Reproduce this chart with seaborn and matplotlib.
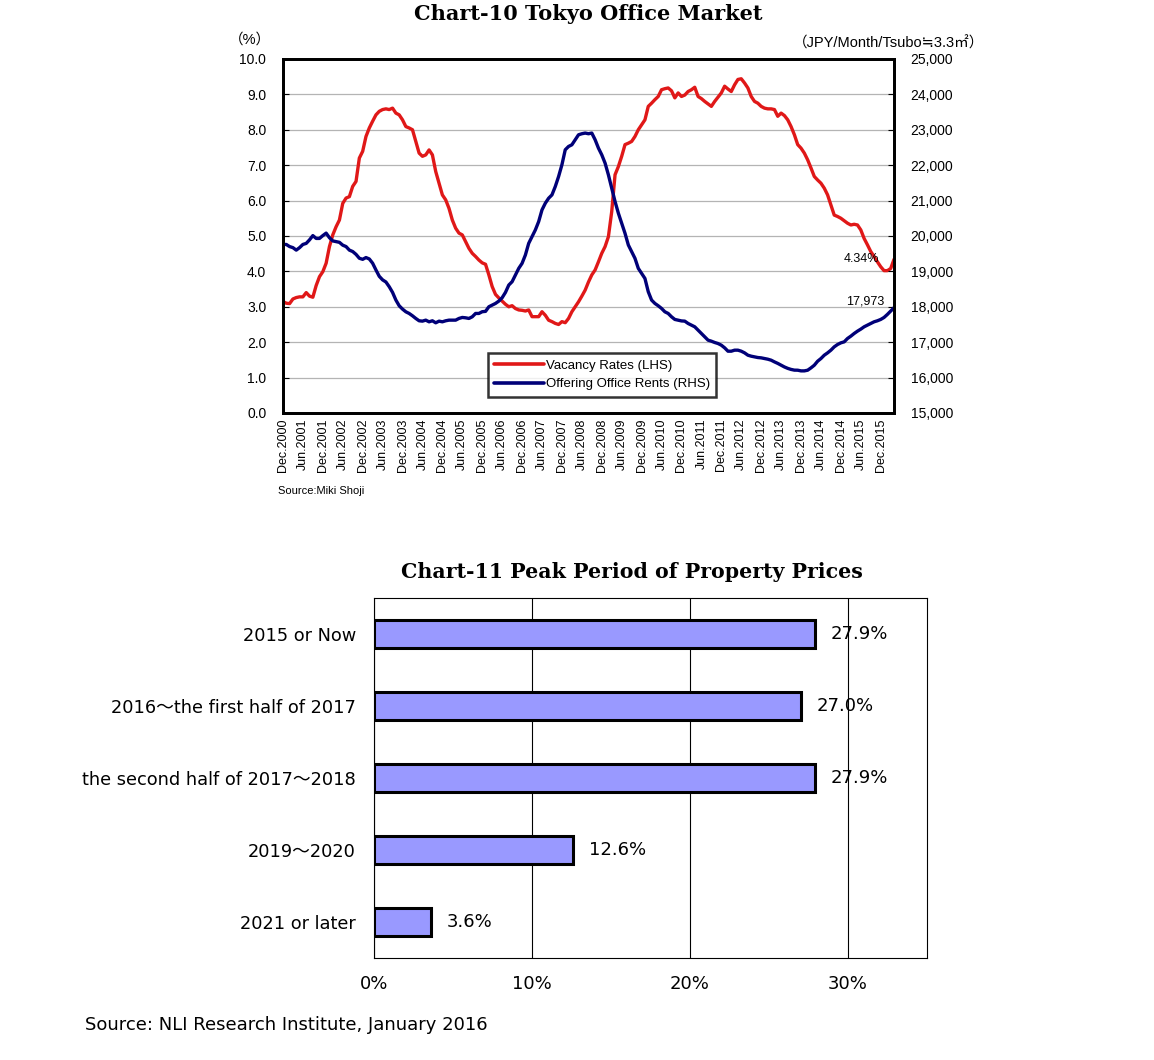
import matplotlib

matplotlib.use("Agg")

import matplotlib.pyplot as plt
import numpy as np
import pandas as pd
import seaborn as sns
from matplotlib.lines import Line2D

# ---------------------------------------------------------------- data
# Chart-10: monthly, first point = Dec.2000
vacancy = [
    3.15, 3.10, 3.09, 3.22, 3.26, 3.28, 3.28, 3.40, 3.30, 3.27,
    3.60, 3.85, 3.99, 4.23, 4.70, 5.03, 5.26, 5.45, 5.92, 6.07,
    6.11, 6.40, 6.54, 7.20, 7.39, 7.81, 8.05, 8.24, 8.42, 8.52,
    8.57, 8.59, 8.57, 8.61, 8.47, 8.42, 8.28, 8.09, 8.05, 8.00,
    7.67, 7.34, 7.25, 7.29, 7.43, 7.29, 6.82, 6.49, 6.16, 6.02,
    5.78, 5.45, 5.22, 5.08, 5.03, 4.84, 4.65, 4.51, 4.42, 4.32,
    4.24, 4.20, 3.90, 3.57, 3.35, 3.25, 3.16, 3.07, 3.00, 3.03,
    2.95, 2.91, 2.90, 2.88, 2.91, 2.72, 2.72, 2.72, 2.86, 2.76,
    2.62, 2.58, 2.53, 2.50, 2.58, 2.55, 2.67, 2.86, 3.00, 3.14,
    3.30, 3.47, 3.70, 3.90, 4.04, 4.27, 4.51, 4.70, 4.98, 5.69,
    6.73, 6.96, 7.25, 7.58, 7.62, 7.67, 7.81, 8.00, 8.14, 8.28,
    8.66, 8.75, 8.85, 8.94, 9.13, 9.16, 9.18, 9.10, 8.90, 9.04,
    8.94, 8.98, 9.08, 9.13, 9.20, 8.94, 8.88, 8.80, 8.73, 8.66,
    8.80, 8.92, 9.04, 9.23, 9.15, 9.08, 9.27, 9.42, 9.44, 9.32,
    9.18, 8.94, 8.80, 8.75, 8.66, 8.61, 8.59, 8.59, 8.57, 8.38,
    8.47, 8.40, 8.28, 8.09, 7.86, 7.58, 7.48, 7.34, 7.15, 6.92,
    6.68, 6.58, 6.49, 6.35, 6.16, 5.87, 5.59, 5.55, 5.50, 5.43,
    5.36, 5.31, 5.33, 5.31, 5.17, 4.93, 4.75, 4.56, 4.42, 4.27,
    4.13, 4.02, 4.02, 4.08, 4.34,
]
rents = [
    19760, 19760, 19700, 19670, 19600, 19670, 19760, 19790, 19890, 20010,
    19930, 19930, 20010, 20080, 19950, 19860, 19840, 19820, 19740, 19700,
    19600, 19560, 19480, 19370, 19340, 19390, 19350, 19230, 19040, 18860,
    18760, 18700, 18566, 18406, 18190, 18028, 17934, 17858, 17811, 17745,
    17670, 17604, 17594, 17622, 17575, 17604, 17547, 17594, 17575, 17604,
    17622, 17622, 17622, 17670, 17698, 17688, 17670, 17717, 17811, 17811,
    17860, 17870, 18000, 18047, 18094, 18160, 18255, 18406, 18613, 18708,
    18896, 19085, 19226, 19462, 19792, 19981, 20170, 20406, 20736, 20925,
    21066, 21160, 21396, 21679, 22010, 22434, 22528, 22575, 22717, 22858,
    22887, 22906, 22887, 22906, 22717, 22481, 22292, 22057, 21726, 21349,
    20972, 20642, 20358, 20075, 19745, 19557, 19368, 19085, 18943, 18800,
    18425, 18189, 18094, 18028, 17953, 17858, 17811, 17717, 17642, 17622,
    17600, 17594, 17528, 17481, 17434, 17340, 17245, 17151, 17057, 17028,
    16991, 16962, 16915, 16840, 16745, 16745, 16774, 16774, 16745, 16698,
    16632, 16604, 16585, 16566, 16557, 16538, 16519, 16491, 16443, 16400,
    16350, 16300, 16260, 16230, 16210, 16208, 16189, 16189, 16208, 16274,
    16349, 16462, 16538, 16632, 16698, 16774, 16868, 16934, 16981, 17009,
    17104, 17170, 17245, 17311, 17368, 17434, 17481, 17528, 17575, 17604,
    17642, 17698, 17783, 17877, 17973,
]
month_labels = []
for yr in range(2000, 2016):
    if yr > 2000:
        month_labels.append(f"Jun.{yr}")
    month_labels.append(f"Dec.{yr}")

# Chart-11
periods = [
    "2015 or Now",
    "2016～the first half of 2017",
    "the second half of 2017～2018",
    "2019～2020",
    "2021 or later",
]
shares = [27.9, 27.0, 27.9, 12.6, 3.6]

RED = "#e01818"
NAVY = "#000078"
FONT = ["Liberation Sans", "Noto Sans CJK JP", "DejaVu Sans"]
FONT_WIDE = ["DejaVu Sans", "Noto Sans CJK JP"]

sns.set_style("white")
plt.rcParams["font.family"] = FONT
plt.rcParams.update({"text.color": "black", "xtick.color": "black",
                     "ytick.color": "black", "axes.labelcolor": "black"})

fig = plt.figure(figsize=(11.54, 10.6), dpi=100)

# ---------------------------------------------------------------- chart 10
df = pd.DataFrame({"m": np.arange(len(vacancy)), "vac": vacancy, "rent": rents})

ax = fig.add_axes([0.2452, 0.6104, 0.5295, 0.3340])
ax2 = ax.twinx()
sns.lineplot(data=df, x="m", y="vac", ax=ax, color=RED, lw=2.4)
sns.lineplot(data=df, x="m", y="rent", ax=ax2, color=NAVY, lw=2.4)

ax.set_xlim(0, len(vacancy) - 1)
ax.set_ylim(0, 10)
ax2.set_ylim(15000, 25000)
ax.set_yticks(np.arange(0, 10.1, 1.0))
ax.set_yticklabels([f"{v:.1f}" for v in np.arange(0, 10.1, 1.0)])
ax2.set_yticks(np.arange(15000, 25001, 1000))
ax2.set_yticklabels([f"{v:,}" for v in range(15000, 25001, 1000)])
ax.set_xticks(np.arange(0, 181, 6))
ax.set_xticklabels(month_labels, rotation=90, fontsize=9)
ax.yaxis.grid(True, color="#b4b4b4", lw=0.9)
ax.set_axisbelow(True)
ax.set_xlabel("")
ax.set_ylabel("")
ax2.set_ylabel("")
ax.tick_params(axis="y", direction="in", length=4, labelsize=10, pad=12)
ax2.tick_params(axis="y", direction="in", length=4, labelsize=10, pad=12)
ax.tick_params(axis="x", direction="in", length=5, pad=4)
for a in (ax, ax2):
    for s in a.spines.values():
        s.set_linewidth(2.0)
        s.set_color("black")

ax.text(df["m"].iloc[-1] - 4.5, vacancy[-1], f"{vacancy[-1]:.2f}%",
        ha="right", va="center", fontsize=9)
ax2.text(df["m"].iloc[-1] - 3, rents[-1], f"{rents[-1]:,}",
         ha="right", va="bottom", fontsize=9)

handles = [Line2D([], [], color=RED, lw=2.6), Line2D([], [], color=NAVY, lw=2.6)]
leg = ax2.legend(handles, ["Vacancy Rates (LHS)", "Offering Office Rents (RHS)"],
                 loc="lower left", bbox_to_anchor=(0.335, 0.045), fontsize=9.5,
                 frameon=True, fancybox=False, handlelength=3.8,
                 handletextpad=0.1, borderpad=0.5, labelspacing=0.5,
                 borderaxespad=0)
leg.get_frame().set_edgecolor("black")
leg.get_frame().set_linewidth(1.8)

fig.text(0.5095, 0.9865, "Chart-10 Tokyo Office Market", ha="center",
         va="center", fontsize=15, family="DejaVu Serif", weight="bold")
fig.text(0.2166, 0.9623, "（%）", ha="center", va="center", fontsize=10.5)
fig.text(0.853, 0.9594, "（JPY/Month/Tsubo≒3.3㎡）", ha="right", va="center",
         fontsize=10.5)
fig.text(0.241, 0.5368, "Source:Miki Shoji", ha="left", va="center", fontsize=8)

# ---------------------------------------------------------------- chart 11
bx = fig.add_axes([0.3241, 0.0962, 0.4792, 0.3396])
sns.barplot(x=shares, y=periods, orient="h", color="#9999ff",
            edgecolor="black", linewidth=2.2, width=0.4, saturation=1, ax=bx)
bx.set_xlim(0, 35)
bx.set_xticks([0, 10, 20, 30])
bx.set_xticklabels([f"{v}%" for v in [0, 10, 20, 30]], family=FONT_WIDE)
bx.set_yticklabels(periods, family=FONT_WIDE)
bx.xaxis.grid(True, color="black", lw=0.8)
bx.set_axisbelow(True)
bx.set_yticks(np.arange(len(periods)) + 0.5, minor=True)
bx.tick_params(axis="y", which="minor", direction="in", length=4)
bx.tick_params(axis="y", which="major", length=0, labelsize=12.8, pad=13)
bx.tick_params(axis="x", length=0, labelsize=13, pad=12)
bx.set_xlabel("")
bx.set_ylabel("")
for s in bx.spines.values():
    s.set_linewidth(0.8)
    s.set_color("black")
for i, v in enumerate(shares):
    bx.text(v + 1.0, i, f"{v:.1f}%", ha="left", va="center", fontsize=13,
            family=FONT_WIDE)

fig.text(0.5477, 0.4604, "Chart-11 Peak Period of Property Prices", ha="center",
         va="center", fontsize=14.8, family="DejaVu Serif", weight="bold")
fig.text(0.0737, 0.033, "Source: NLI Research Institute, January 2016",
         ha="left", va="center", fontsize=13, family=FONT_WIDE)

fig.savefig("out.png", dpi=100)
